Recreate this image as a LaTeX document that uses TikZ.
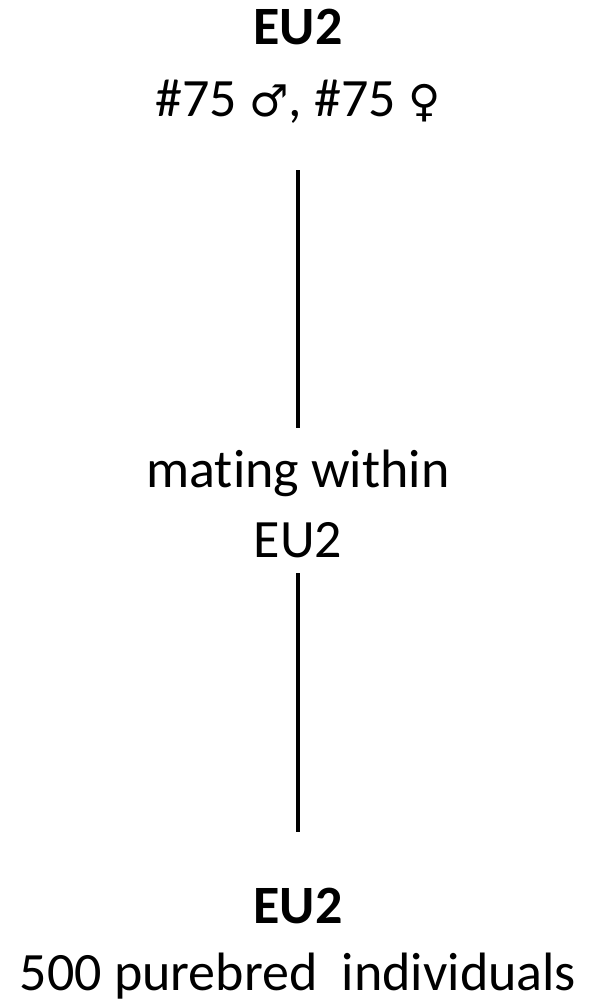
\documentclass[tikz,border=0pt]{standalone}
\usepackage{fontspec}
\setmainfont[Ligatures={NoCommon}]{Carlito}
\newfontfamily\symfont{DejaVu Sans}
\usetikzlibrary{positioning}
\tikzstyle{label} = [inner sep=0pt, text height=34pt, text depth=10pt, anchor=base, font=\fontsize{54}{64}\selectfont]
\tikzstyle{title} = [label, font=\fontsize{54}{64}\selectfont\bfseries]
\tikzstyle{link} = [line width=4.5pt, draw=black]

\begin{document}
\begin{tikzpicture}[x=1pt, y=1pt]
		\useasboundingbox (0,0) rectangle (596,-1006);
		\node (Top)[title] at (298,-45) {EU2};
		\node (Parents)[label] at (298,-117) {\#75 {\symfont\fontsize{44}{54}\selectfont ♂}, \#75 {\symfont\fontsize{44}{54}\selectfont ♀}};
		\node (Mating)[label] at (298,-487) {mating within};
		\node (Within)[label] at (298,-557) {EU2};
		\node (Bottom)[title] at (298,-923) {EU2};
		\node (Offspring)[label] at (298,-990) {500 purebred\ \ individuals};
		\draw [link, shorten <=43pt, shorten >=25pt] (Parents.south) -- (Mating.north);
		\draw [link, shorten <=6pt, shorten >=57pt] (Within.south) -- (Bottom.north);
	\end{tikzpicture}
\end{document}
